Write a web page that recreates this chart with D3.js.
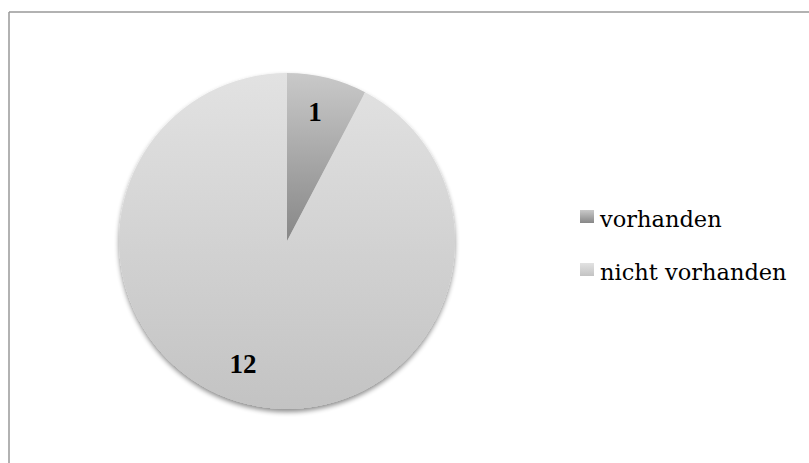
<!DOCTYPE html>
<html>
<head>
<meta charset="utf-8">
<script src="https://cdn.jsdelivr.net/npm/d3@7"></script>
<style>
  html, body { margin: 0; padding: 0; background: #fff; }
  svg { display: block; }
</style>
</head>
<body>
<svg id="chart" width="809" height="463"></svg>
<script>
// Pie data: presence counts
const categories = ["vorhanden", "nicht vorhanden"];
const values = [1, 12];
// Gradient stops per slice (top, bottom)
const sliceTop = ["#c9c9c9", "#e2e2e2"];
const sliceBottom = ["#878787", "#c3c3c3"];
// Horizontal nudge of each value label from its slice centroid
const labelShift = [-3, -13];

const W = 809, H = 463;
const cx = 287, cy = 241, radius = 168;
const legendFont = "'DejaVu Serif', 'Liberation Serif', serif";
const labelFont = "'Liberation Serif', 'DejaVu Serif', serif";

const svg = d3.select("#chart");
const defs = svg.append("defs");

categories.forEach((c, i) => {
  const g = defs.append("linearGradient")
    .attr("id", "grad" + i)
    .attr("x1", 0).attr("y1", 0).attr("x2", 0).attr("y2", 1);
  g.append("stop").attr("offset", "0%").attr("stop-color", sliceTop[i]);
  g.append("stop").attr("offset", "100%").attr("stop-color", sliceBottom[i]);
});

const shadow = defs.append("filter").attr("id", "shadow")
  .attr("x", "-20%").attr("y", "-20%").attr("width", "140%").attr("height", "140%");
shadow.append("feGaussianBlur").attr("in", "SourceAlpha").attr("stdDeviation", 2.5).attr("result", "b");
shadow.append("feOffset").attr("in", "b").attr("dy", 3).attr("result", "o");
shadow.append("feComponentTransfer").attr("in", "o").attr("result", "s")
  .append("feFuncA").attr("type", "linear").attr("slope", 0.45);
const merge = shadow.append("feMerge");
merge.append("feMergeNode").attr("in", "s");
merge.append("feMergeNode").attr("in", "SourceGraphic");

// Chart frame (left and top edges visible)
svg.append("line").attr("x1", 9).attr("y1", 12).attr("x2", W).attr("y2", 12)
  .attr("stroke", "#989898").attr("stroke-width", 1.5);
svg.append("line").attr("x1", 9).attr("y1", 12).attr("x2", 9).attr("y2", H)
  .attr("stroke", "#989898").attr("stroke-width", 1.5);

const pie = d3.pie().sort(null).value(d => d)(values);
const arc = d3.arc().innerRadius(0).outerRadius(radius);

const pieG = svg.append("g").attr("transform", `translate(${cx},${cy})`);
const shadowG = pieG.append("g").attr("filter", "url(#shadow)");
shadowG.selectAll("path").data(pie).join("path")
  .attr("d", arc)
  .attr("fill", (d, i) => `url(#grad${i})`);

// Value labels (baseline placed so digits sit centred just above the centroid)
const labelArc = d3.arc().innerRadius(130).outerRadius(130);
pieG.selectAll("text").data(pie).join("text")
  .attr("x", (d, i) => labelArc.centroid(d)[0] + labelShift[i])
  .attr("y", d => labelArc.centroid(d)[1] + 6)
  .attr("text-anchor", "middle")
  .attr("font-family", labelFont)
  .attr("font-weight", "bold")
  .attr("font-size", 27)
  .attr("fill", "#000")
  .text(d => d.data);

// Legend
const legend = svg.append("g").attr("transform", "translate(580,227)");
const rows = legend.selectAll("g").data(categories).join("g")
  .attr("transform", (d, i) => `translate(0,${i * 53})`);
rows.append("rect").attr("x", 0).attr("y", -17).attr("width", 14).attr("height", 13)
  .attr("fill", (d, i) => `url(#grad${i})`);
rows.append("text").attr("x", 20).attr("y", 0)
  .attr("font-family", legendFont)
  .attr("font-size", 22.5)
  .attr("fill", "#000")
  .text(d => d);
</script>
</body>
</html>
